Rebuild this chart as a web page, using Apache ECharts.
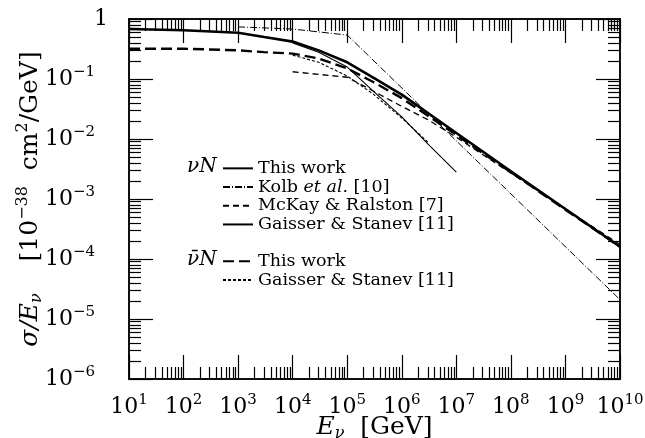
<!DOCTYPE html>
<html>
<head>
<meta charset="utf-8">
<script src="https://cdn.jsdelivr.net/npm/echarts@6/dist/echarts.min.js"></script>
<style>
  html, body { margin: 0; background: #fff; }
  #chart { width: 645px; height: 438px; }
</style>
</head>
<body>
<div id="chart"></div>
<script>
  // tick labels (decade exponents)
  var xTickExps = [1, 2, 3, 4, 5, 6, 7, 8, 9, 10];
  var yTickExps = [-6, -5, -4, -3, -2, -1, 0];
  var minorMults = [2, 3, 4, 5, 6, 7, 8, 9];

  // nu N, this work
  var nuThisE = [10, 100, 1e3, 3e3, 1e4, 3e4, 1e5, 3e5, 1e6, 1e7, 1e8, 1e9, 1e10];
  var nuThisVal = [0.68, 0.65, 0.59, 0.50, 0.42, 0.30, 0.19, 0.105, 0.055, 0.0126, 0.0029, 6.8e-4, 1.6e-4];
  // nubar N, this work
  var nubarThisE = [10, 100, 1e3, 3e3, 1e4, 3e4, 1e5, 3e5, 1e6, 1e7, 1e8, 1e9, 1e10];
  var nubarThisVal = [0.32, 0.32, 0.30, 0.28, 0.265, 0.22, 0.15, 0.089, 0.048, 0.0117, 0.0028, 6.6e-4, 1.6e-4];
  // Kolb et al.
  var kolbE = [1e3, 1e4, 1e5, 1e10];
  var kolbVal = [0.74, 0.68, 0.54, 2.1e-5];
  // McKay & Ralston
  var mckayE = [1e4, 1e5, 3e5, 1e6, 3e6, 1e7, 1e8, 1e9, 1e10];
  var mckayVal = [0.132, 0.107, 0.063, 0.035, 0.021, 0.0107, 0.0027, 6.8e-4, 1.74e-4];
  // Gaisser & Stanev, nu
  var gsNuE = [1e4, 3e4, 1e5, 3e5, 1e6, 3e6, 1e7];
  var gsNuVal = [0.40, 0.28, 0.158, 0.063, 0.0234, 0.0083, 0.0028];
  // Gaisser & Stanev, nubar
  var gsNubarE = [1e4, 3e4, 1e5, 3e5, 1e6, 3e6];
  var gsNubarVal = [0.25, 0.19, 0.112, 0.056, 0.0224, 0.0089];

  function pairs(xs, ys) {
    return xs.map(function (x, i) { return [x, ys[i]]; });
  }

  function majors(exps) {
    return exps.map(function (e) { return Math.pow(10, e); });
  }

  function minors(exps) {
    var out = [];
    for (var i = 0; i < exps.length - 1; i++) {
      minorMults.forEach(function (m) { out.push(m * Math.pow(10, exps[i])); });
    }
    return out;
  }

  function expText(v, gap) {
    var e = Math.round(Math.log10(v));
    if (e === 0) return '{one|1}';
    return '{b|10}{s|' + (e < 0 ? '\u2212' + (-e) : e) + '}' + (gap ? '{gap| }' : '');
  }

  var font = 'DejaVu Serif';
  var black = '#000';

  var labelRich = {
    b: { fontFamily: font, fontSize: 22, lineHeight: 28, color: black },
    s: { fontFamily: font, fontSize: 15, lineHeight: 15, verticalAlign: 'top', color: black },
    gap: { fontFamily: font, fontSize: 15, width: 13, lineHeight: 15, color: black },
    one: { fontFamily: font, fontSize: 22, lineHeight: 28, color: black }
  };

  var nameRich = {
    i: { fontFamily: font, fontStyle: 'italic', fontSize: 25, lineHeight: 30, color: black },
    sub: { fontFamily: font, fontStyle: 'italic', fontSize: 16, lineHeight: 16, verticalAlign: 'bottom', color: black },
    sup: { fontFamily: font, fontSize: 16, lineHeight: 16, verticalAlign: 'top', color: black },
    n: { fontFamily: font, fontSize: 25, lineHeight: 30, color: black }
  };

  function xAx(pos, vals, len, label) {
    return {
      type: 'log', logBase: 10, min: 10, max: 1e10, position: pos, gridIndex: 0,
      axisLine: { show: true, onZero: false, lineStyle: { color: black, width: 1.5 } },
      axisTick: { show: true, inside: true, length: len, customValues: vals, lineStyle: { color: black, width: 1.2 } },
      axisLabel: label ? {
        show: true, customValues: vals, margin: 14, rich: labelRich,
        formatter: function (v) { return expText(v, false); }
      } : { show: false },
      splitLine: { show: false },
      name: label ? '{i|E}{sub|\u03bd}{n|  [GeV]}' : '',
      nameLocation: 'middle', nameGap: 33, nameMoveOverlap: false,
      nameTextStyle: { rich: nameRich }
    };
  }

  function yAx(pos, vals, len, label) {
    return {
      type: 'log', logBase: 10, min: 1e-6, max: 1, position: pos, gridIndex: 0,
      axisLine: { show: true, onZero: false, lineStyle: { color: black, width: 1.5 } },
      axisTick: { show: true, inside: true, length: len, customValues: vals, lineStyle: { color: black, width: 1.2 } },
      axisLabel: label ? {
        show: true, customValues: vals, margin: 21, rich: labelRich,
        formatter: function (v) { return expText(v, true); }
      } : { show: false },
      splitLine: { show: false },
      name: label ? '{i|\u03c3/E}{sub|\u03bd}{n|    [10}{sup|\u221238}{n|  cm}{sup|2}{n|/GeV]}' : '',
      nameLocation: 'middle', nameGap: 84, nameMoveOverlap: false,
      nameTextStyle: { rich: nameRich }
    };
  }

  var xMaj = majors(xTickExps), xMin = minors(xTickExps);
  var yMaj = majors(yTickExps), yMin = minors(yTickExps);

  function line(name, data, width, dash) {
    return {
      name: name, type: 'line', xAxisIndex: 0, yAxisIndex: 0,
      data: data, symbol: 'none', silent: true, animation: false,
      itemStyle: { color: black, opacity: 0 },
      lineStyle: { color: black, width: width, type: dash }
    };
  }

  var legendNames = {
    'nu_this': 'This work',
    'kolb': '{n|Kolb }{i|et al.}{n| [10]}',
    'mckay': 'McKay & Ralston [7]',
    'gs_nu': 'Gaisser & Stanev [11]',
    'nubar_this': 'This work',
    'gs_nubar': 'Gaisser & Stanev [11]'
  };

  var legendText = {
    fontFamily: font, fontSize: 17.5, lineHeight: 18.7, color: black,
    rich: {
      n: { fontFamily: font, fontSize: 17.5, color: black },
      i: { fontFamily: font, fontStyle: 'italic', fontSize: 17.5, color: black }
    }
  };

  function legendBox(names, top) {
    return {
      data: names, orient: 'vertical', left: 222, top: top,
      itemWidth: 30, itemHeight: 12, itemGap: 0, padding: 0,
      selectedMode: false, textStyle: legendText,
      itemStyle: { opacity: 0 },
      formatter: function (n) { return legendNames[n]; }
    };
  }

  var chart = echarts.init(document.getElementById('chart'));
  chart.setOption({
    backgroundColor: '#fff',
    animation: false,
    grid: { left: 129, right: 25, top: 19, bottom: 59, outerBoundsMode: 'none', containLabel: false },
    xAxis: [
      xAx('bottom', xMaj, 24, true),
      xAx('bottom', xMin, 12, false),
      xAx('top', xMaj, 24, false),
      xAx('top', xMin, 12, false)
    ],
    yAxis: [
      yAx('left', yMaj, 24, true),
      yAx('left', yMin, 12, false),
      yAx('right', yMaj, 24, false),
      yAx('right', yMin, 12, false)
    ],
    legend: [
      legendBox(['nu_this', 'kolb', 'mckay', 'gs_nu'], 159),
      legendBox(['nubar_this', 'gs_nubar'], 252)
    ],
    graphic: [
      { type: 'text', left: 187, top: 157, style: { text: '\u03bdN', font: 'italic 20px "DejaVu Serif"', fill: black } },
      { type: 'text', left: 187, top: 250, style: { text: '\u03bd\u0304N', font: 'italic 20px "DejaVu Serif"', fill: black } }
    ],
    series: [
      line('kolb', pairs(kolbE, kolbVal), 1, [7, 2, 1, 2]),
      line('mckay', pairs(mckayE, mckayVal), 1.3, [6, 4]),
      line('gs_nu', pairs(gsNuE, gsNuVal), 1.1, 'solid'),
      line('gs_nubar', pairs(gsNubarE, gsNubarVal), 1.1, [3, 2]),
      line('nubar_this', pairs(nubarThisE, nubarThisVal), 2.4, [11, 5]),
      line('nu_this', pairs(nuThisE, nuThisVal), 2.6, 'solid')
    ]
  });
</script>
</body>
</html>
